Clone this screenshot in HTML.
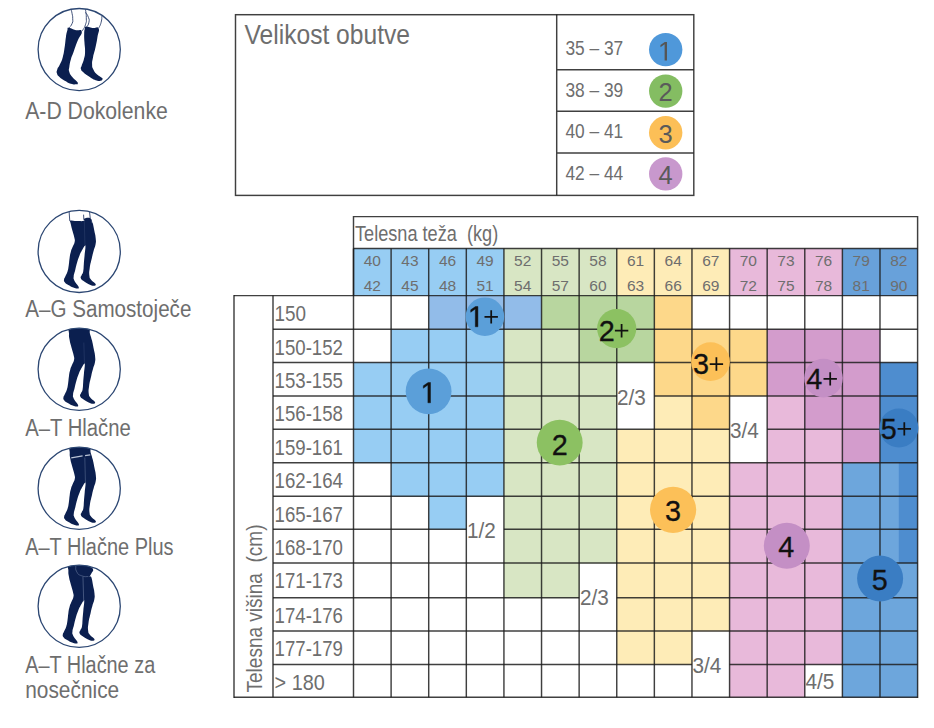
<!DOCTYPE html>
<html><head><meta charset="utf-8"><title>Velikost</title>
<style>
html,body{margin:0;padding:0;background:#fff;}
body{width:934px;height:728px;overflow:hidden;font-family:"Liberation Sans",sans-serif;}
svg{display:block;position:absolute;left:0;top:0;}
text{font-family:"Liberation Sans",sans-serif;}
</style></head><body>
<svg width="934" height="728" viewBox="0 0 934 728">

<rect x="353.50" y="248.4" width="37.91" height="47.5" fill="#97cdf3"/>
<rect x="391.11" y="248.4" width="37.91" height="47.5" fill="#97cdf3"/>
<rect x="428.71" y="248.4" width="37.91" height="47.5" fill="#97cdf3"/>
<rect x="466.32" y="248.4" width="37.91" height="47.5" fill="#97cdf3"/>
<rect x="503.93" y="248.4" width="37.91" height="47.5" fill="#d8e6c4"/>
<rect x="541.53" y="248.4" width="37.91" height="47.5" fill="#d8e6c4"/>
<rect x="579.14" y="248.4" width="37.91" height="47.5" fill="#d8e6c4"/>
<rect x="616.75" y="248.4" width="37.91" height="47.5" fill="#feecb7"/>
<rect x="654.35" y="248.4" width="37.91" height="47.5" fill="#feecb7"/>
<rect x="691.96" y="248.4" width="37.91" height="47.5" fill="#feecb7"/>
<rect x="729.57" y="248.4" width="37.91" height="47.5" fill="#e8b9da"/>
<rect x="767.17" y="248.4" width="37.91" height="47.5" fill="#e8b9da"/>
<rect x="804.78" y="248.4" width="37.91" height="47.5" fill="#e8b9da"/>
<rect x="842.39" y="248.4" width="37.91" height="47.5" fill="#68a1da"/>
<rect x="879.99" y="248.4" width="37.91" height="47.5" fill="#68a1da"/>
<rect x="428.71" y="295.60" width="37.91" height="33.90" fill="#92bce9"/>
<rect x="466.32" y="295.60" width="37.91" height="33.90" fill="#92bce9"/>
<rect x="503.93" y="295.60" width="37.91" height="33.90" fill="#92bce9"/>
<rect x="541.53" y="295.60" width="37.91" height="33.90" fill="#b8d69f"/>
<rect x="579.14" y="295.60" width="37.91" height="33.90" fill="#b8d69f"/>
<rect x="616.75" y="295.60" width="37.91" height="33.90" fill="#b8d69f"/>
<rect x="654.35" y="295.60" width="37.91" height="33.90" fill="#fdd88a"/>
<rect x="391.11" y="329.20" width="37.91" height="33.50" fill="#97cdf3"/>
<rect x="428.71" y="329.20" width="37.91" height="33.50" fill="#97cdf3"/>
<rect x="466.32" y="329.20" width="37.91" height="33.50" fill="#97cdf3"/>
<rect x="503.93" y="329.20" width="37.91" height="33.50" fill="#d8e6c4"/>
<rect x="541.53" y="329.20" width="37.91" height="33.50" fill="#d8e6c4"/>
<rect x="579.14" y="329.20" width="37.91" height="33.50" fill="#b8d69f"/>
<rect x="616.75" y="329.20" width="37.91" height="33.50" fill="#b8d69f"/>
<rect x="654.35" y="329.20" width="37.91" height="33.50" fill="#fdd88a"/>
<rect x="691.96" y="329.20" width="37.91" height="33.50" fill="#fdd88a"/>
<rect x="729.57" y="329.20" width="37.91" height="33.50" fill="#fdd88a"/>
<rect x="767.17" y="329.20" width="37.91" height="33.50" fill="#d39ccc"/>
<rect x="804.78" y="329.20" width="37.91" height="33.50" fill="#d39ccc"/>
<rect x="842.39" y="329.20" width="37.91" height="33.50" fill="#d39ccc"/>
<rect x="353.50" y="362.40" width="37.91" height="33.80" fill="#97cdf3"/>
<rect x="391.11" y="362.40" width="37.91" height="33.80" fill="#97cdf3"/>
<rect x="428.71" y="362.40" width="37.91" height="33.80" fill="#97cdf3"/>
<rect x="466.32" y="362.40" width="37.91" height="33.80" fill="#97cdf3"/>
<rect x="503.93" y="362.40" width="37.91" height="33.80" fill="#d8e6c4"/>
<rect x="541.53" y="362.40" width="37.91" height="33.80" fill="#d8e6c4"/>
<rect x="579.14" y="362.40" width="37.91" height="33.80" fill="#d8e6c4"/>
<rect x="654.35" y="362.40" width="37.91" height="33.80" fill="#fdd88a"/>
<rect x="691.96" y="362.40" width="37.91" height="33.80" fill="#fdd88a"/>
<rect x="729.57" y="362.40" width="37.91" height="33.80" fill="#fdd88a"/>
<rect x="767.17" y="362.40" width="37.91" height="33.80" fill="#d39ccc"/>
<rect x="804.78" y="362.40" width="37.91" height="33.80" fill="#d39ccc"/>
<rect x="842.39" y="362.40" width="37.91" height="33.80" fill="#d39ccc"/>
<rect x="879.99" y="362.40" width="37.91" height="33.80" fill="#4e8dcf"/>
<rect x="353.50" y="395.90" width="37.91" height="33.70" fill="#97cdf3"/>
<rect x="391.11" y="395.90" width="37.91" height="33.70" fill="#97cdf3"/>
<rect x="428.71" y="395.90" width="37.91" height="33.70" fill="#97cdf3"/>
<rect x="466.32" y="395.90" width="37.91" height="33.70" fill="#97cdf3"/>
<rect x="503.93" y="395.90" width="37.91" height="33.70" fill="#d8e6c4"/>
<rect x="541.53" y="395.90" width="37.91" height="33.70" fill="#d8e6c4"/>
<rect x="579.14" y="395.90" width="37.91" height="33.70" fill="#d8e6c4"/>
<rect x="654.35" y="395.90" width="37.91" height="33.70" fill="#feecb7"/>
<rect x="691.96" y="395.90" width="37.91" height="33.70" fill="#fdd88a"/>
<rect x="767.17" y="395.90" width="37.91" height="33.70" fill="#e8b9da"/>
<rect x="804.78" y="395.90" width="37.91" height="33.70" fill="#d39ccc"/>
<rect x="842.39" y="395.90" width="37.91" height="33.70" fill="#d39ccc"/>
<rect x="879.99" y="395.90" width="37.91" height="33.70" fill="#4e8dcf"/>
<rect x="353.50" y="429.30" width="37.91" height="33.80" fill="#97cdf3"/>
<rect x="391.11" y="429.30" width="37.91" height="33.80" fill="#97cdf3"/>
<rect x="428.71" y="429.30" width="37.91" height="33.80" fill="#97cdf3"/>
<rect x="466.32" y="429.30" width="37.91" height="33.80" fill="#97cdf3"/>
<rect x="503.93" y="429.30" width="37.91" height="33.80" fill="#d8e6c4"/>
<rect x="541.53" y="429.30" width="37.91" height="33.80" fill="#d8e6c4"/>
<rect x="579.14" y="429.30" width="37.91" height="33.80" fill="#d8e6c4"/>
<rect x="616.75" y="429.30" width="37.91" height="33.80" fill="#feecb7"/>
<rect x="654.35" y="429.30" width="37.91" height="33.80" fill="#feecb7"/>
<rect x="691.96" y="429.30" width="37.91" height="33.80" fill="#feecb7"/>
<rect x="767.17" y="429.30" width="37.91" height="33.80" fill="#e8b9da"/>
<rect x="804.78" y="429.30" width="37.91" height="33.80" fill="#e8b9da"/>
<rect x="842.39" y="429.30" width="37.91" height="33.80" fill="#d39ccc"/>
<rect x="879.99" y="429.30" width="37.91" height="33.80" fill="#4e8dcf"/>
<rect x="391.11" y="462.80" width="37.91" height="33.80" fill="#97cdf3"/>
<rect x="428.71" y="462.80" width="37.91" height="33.80" fill="#97cdf3"/>
<rect x="466.32" y="462.80" width="37.91" height="33.80" fill="#97cdf3"/>
<rect x="503.93" y="462.80" width="37.91" height="33.80" fill="#d8e6c4"/>
<rect x="541.53" y="462.80" width="37.91" height="33.80" fill="#d8e6c4"/>
<rect x="579.14" y="462.80" width="37.91" height="33.80" fill="#d8e6c4"/>
<rect x="616.75" y="462.80" width="37.91" height="33.80" fill="#feecb7"/>
<rect x="654.35" y="462.80" width="37.91" height="33.80" fill="#feecb7"/>
<rect x="691.96" y="462.80" width="37.91" height="33.80" fill="#feecb7"/>
<rect x="729.57" y="462.80" width="37.91" height="33.80" fill="#e8b9da"/>
<rect x="767.17" y="462.80" width="37.91" height="33.80" fill="#e8b9da"/>
<rect x="804.78" y="462.80" width="37.91" height="33.80" fill="#e8b9da"/>
<rect x="842.39" y="462.80" width="37.91" height="33.80" fill="#6da6dc"/>
<rect x="879.99" y="462.80" width="19.10" height="33.80" fill="#6da6dc"/>
<rect x="898.80" y="462.80" width="18.80" height="33.80" fill="#4e8dcf"/>
<rect x="428.71" y="496.30" width="37.91" height="33.20" fill="#97cdf3"/>
<rect x="503.93" y="496.30" width="37.91" height="33.20" fill="#d8e6c4"/>
<rect x="541.53" y="496.30" width="37.91" height="33.20" fill="#d8e6c4"/>
<rect x="579.14" y="496.30" width="37.91" height="33.20" fill="#d8e6c4"/>
<rect x="616.75" y="496.30" width="37.91" height="33.20" fill="#feecb7"/>
<rect x="654.35" y="496.30" width="37.91" height="33.20" fill="#feecb7"/>
<rect x="691.96" y="496.30" width="37.91" height="33.20" fill="#feecb7"/>
<rect x="729.57" y="496.30" width="37.91" height="33.20" fill="#e8b9da"/>
<rect x="767.17" y="496.30" width="37.91" height="33.20" fill="#e8b9da"/>
<rect x="804.78" y="496.30" width="37.91" height="33.20" fill="#e8b9da"/>
<rect x="842.39" y="496.30" width="37.91" height="33.20" fill="#6da6dc"/>
<rect x="879.99" y="496.30" width="19.10" height="33.20" fill="#6da6dc"/>
<rect x="898.80" y="496.30" width="18.80" height="33.20" fill="#4e8dcf"/>
<rect x="503.93" y="529.20" width="37.91" height="34.10" fill="#d8e6c4"/>
<rect x="541.53" y="529.20" width="37.91" height="34.10" fill="#d8e6c4"/>
<rect x="579.14" y="529.20" width="37.91" height="34.10" fill="#d8e6c4"/>
<rect x="616.75" y="529.20" width="37.91" height="34.10" fill="#feecb7"/>
<rect x="654.35" y="529.20" width="37.91" height="34.10" fill="#feecb7"/>
<rect x="691.96" y="529.20" width="37.91" height="34.10" fill="#feecb7"/>
<rect x="729.57" y="529.20" width="37.91" height="34.10" fill="#e8b9da"/>
<rect x="767.17" y="529.20" width="37.91" height="34.10" fill="#e8b9da"/>
<rect x="804.78" y="529.20" width="37.91" height="34.10" fill="#e8b9da"/>
<rect x="842.39" y="529.20" width="37.91" height="34.10" fill="#6da6dc"/>
<rect x="879.99" y="529.20" width="19.10" height="34.10" fill="#6da6dc"/>
<rect x="898.80" y="529.20" width="18.80" height="34.10" fill="#4e8dcf"/>
<rect x="503.93" y="563.00" width="37.91" height="35.10" fill="#d8e6c4"/>
<rect x="541.53" y="563.00" width="37.91" height="35.10" fill="#d8e6c4"/>
<rect x="616.75" y="563.00" width="37.91" height="35.10" fill="#feecb7"/>
<rect x="654.35" y="563.00" width="37.91" height="35.10" fill="#feecb7"/>
<rect x="691.96" y="563.00" width="37.91" height="35.10" fill="#feecb7"/>
<rect x="729.57" y="563.00" width="37.91" height="35.10" fill="#e8b9da"/>
<rect x="767.17" y="563.00" width="37.91" height="35.10" fill="#e8b9da"/>
<rect x="804.78" y="563.00" width="37.91" height="35.10" fill="#e8b9da"/>
<rect x="842.39" y="563.00" width="37.91" height="35.10" fill="#6da6dc"/>
<rect x="879.99" y="563.00" width="37.91" height="35.10" fill="#6da6dc"/>
<rect x="616.75" y="597.80" width="37.91" height="33.50" fill="#feecb7"/>
<rect x="654.35" y="597.80" width="37.91" height="33.50" fill="#feecb7"/>
<rect x="691.96" y="597.80" width="37.91" height="33.50" fill="#feecb7"/>
<rect x="729.57" y="597.80" width="37.91" height="33.50" fill="#e8b9da"/>
<rect x="767.17" y="597.80" width="37.91" height="33.50" fill="#e8b9da"/>
<rect x="804.78" y="597.80" width="37.91" height="33.50" fill="#e8b9da"/>
<rect x="842.39" y="597.80" width="37.91" height="33.50" fill="#6da6dc"/>
<rect x="879.99" y="597.80" width="37.91" height="33.50" fill="#6da6dc"/>
<rect x="616.75" y="631.00" width="37.91" height="33.70" fill="#feecb7"/>
<rect x="654.35" y="631.00" width="37.91" height="33.70" fill="#feecb7"/>
<rect x="729.57" y="631.00" width="37.91" height="33.70" fill="#e8b9da"/>
<rect x="767.17" y="631.00" width="37.91" height="33.70" fill="#e8b9da"/>
<rect x="804.78" y="631.00" width="37.91" height="33.70" fill="#e8b9da"/>
<rect x="842.39" y="631.00" width="37.91" height="33.70" fill="#6da6dc"/>
<rect x="879.99" y="631.00" width="37.91" height="33.70" fill="#6da6dc"/>
<rect x="729.57" y="664.40" width="37.91" height="33.20" fill="#e8b9da"/>
<rect x="767.17" y="664.40" width="37.91" height="33.20" fill="#e8b9da"/>
<rect x="842.39" y="664.40" width="37.91" height="33.20" fill="#6da6dc"/>
<rect x="879.99" y="664.40" width="37.91" height="33.20" fill="#6da6dc"/>
<g stroke="#1c1c1c" stroke-width="1.45" stroke-opacity="0.84" fill="none" stroke-linecap="butt">
<path d="M353.5 295.6 V216.6 H917.6 V698.02"/>
<path d="M353.5 248.4 H917.6"/>
<path d="M353.50 248.4 V697.30"/>
<path d="M391.11 248.4 V697.30"/>
<path d="M428.71 248.4 V697.30"/>
<path d="M466.32 248.4 V697.30"/>
<path d="M503.93 248.4 V697.30"/>
<path d="M541.53 248.4 V697.30"/>
<path d="M579.14 248.4 V697.30"/>
<path d="M616.75 248.4 V697.30"/>
<path d="M654.35 248.4 V697.30"/>
<path d="M691.96 248.4 V697.30"/>
<path d="M729.57 248.4 V697.30"/>
<path d="M767.17 248.4 V697.30"/>
<path d="M804.78 248.4 V697.30"/>
<path d="M842.39 248.4 V697.30"/>
<path d="M879.99 248.4 V697.30"/>
<path d="M234.00 295.60 H917.60"/>
<path d="M273.00 329.20 H917.60"/>
<path d="M273.00 362.40 H917.60"/>
<path d="M273.00 395.90 H616.75"/>
<path d="M654.35 395.90 H917.60"/>
<path d="M273.00 429.30 H729.57"/>
<path d="M767.17 429.30 H917.60"/>
<path d="M273.00 462.80 H917.60"/>
<path d="M273.00 496.30 H917.60"/>
<path d="M273.00 529.20 H466.32"/>
<path d="M503.93 529.20 H917.60"/>
<path d="M273.00 563.00 H917.60"/>
<path d="M273.00 597.80 H579.14"/>
<path d="M616.75 597.80 H917.60"/>
<path d="M273.00 631.00 H917.60"/>
<path d="M273.00 664.40 H691.96"/>
<path d="M729.57 664.40 H917.60"/>
<path d="M234.00 697.30 H917.60"/>
<path d="M234 294.88 V698.02"/>
<path d="M273 295.6 V697.30"/>
</g>
<text x="355" y="241" font-size="21.8" fill="#6e6e6e" textLength="143.2" lengthAdjust="spacingAndGlyphs" xml:space="preserve">Telesna teža  (kg)</text>
<text x="372.30" y="266.3" font-size="15.5" fill="#6e6e6e" text-anchor="middle">40</text>
<text x="372.30" y="290.6" font-size="15.5" fill="#6e6e6e" text-anchor="middle">42</text>
<text x="409.91" y="266.3" font-size="15.5" fill="#6e6e6e" text-anchor="middle">43</text>
<text x="409.91" y="290.6" font-size="15.5" fill="#6e6e6e" text-anchor="middle">45</text>
<text x="447.52" y="266.3" font-size="15.5" fill="#6e6e6e" text-anchor="middle">46</text>
<text x="447.52" y="290.6" font-size="15.5" fill="#6e6e6e" text-anchor="middle">48</text>
<text x="485.12" y="266.3" font-size="15.5" fill="#6e6e6e" text-anchor="middle">49</text>
<text x="485.12" y="290.6" font-size="15.5" fill="#6e6e6e" text-anchor="middle">51</text>
<text x="522.73" y="266.3" font-size="15.5" fill="#6e6e6e" text-anchor="middle">52</text>
<text x="522.73" y="290.6" font-size="15.5" fill="#6e6e6e" text-anchor="middle">54</text>
<text x="560.34" y="266.3" font-size="15.5" fill="#6e6e6e" text-anchor="middle">55</text>
<text x="560.34" y="290.6" font-size="15.5" fill="#6e6e6e" text-anchor="middle">57</text>
<text x="597.94" y="266.3" font-size="15.5" fill="#6e6e6e" text-anchor="middle">58</text>
<text x="597.94" y="290.6" font-size="15.5" fill="#6e6e6e" text-anchor="middle">60</text>
<text x="635.55" y="266.3" font-size="15.5" fill="#6e6e6e" text-anchor="middle">61</text>
<text x="635.55" y="290.6" font-size="15.5" fill="#6e6e6e" text-anchor="middle">63</text>
<text x="673.16" y="266.3" font-size="15.5" fill="#6e6e6e" text-anchor="middle">64</text>
<text x="673.16" y="290.6" font-size="15.5" fill="#6e6e6e" text-anchor="middle">66</text>
<text x="710.76" y="266.3" font-size="15.5" fill="#6e6e6e" text-anchor="middle">67</text>
<text x="710.76" y="290.6" font-size="15.5" fill="#6e6e6e" text-anchor="middle">69</text>
<text x="748.37" y="266.3" font-size="15.5" fill="#6e6e6e" text-anchor="middle">70</text>
<text x="748.37" y="290.6" font-size="15.5" fill="#6e6e6e" text-anchor="middle">72</text>
<text x="785.98" y="266.3" font-size="15.5" fill="#6e6e6e" text-anchor="middle">73</text>
<text x="785.98" y="290.6" font-size="15.5" fill="#6e6e6e" text-anchor="middle">75</text>
<text x="823.58" y="266.3" font-size="15.5" fill="#6e6e6e" text-anchor="middle">76</text>
<text x="823.58" y="290.6" font-size="15.5" fill="#6e6e6e" text-anchor="middle">78</text>
<text x="861.19" y="266.3" font-size="15.5" fill="#6e6e6e" text-anchor="middle">79</text>
<text x="861.19" y="290.6" font-size="15.5" fill="#6e6e6e" text-anchor="middle">81</text>
<text x="898.80" y="266.3" font-size="15.5" fill="#6e6e6e" text-anchor="middle">82</text>
<text x="898.80" y="290.6" font-size="15.5" fill="#6e6e6e" text-anchor="middle">90</text>
<text x="274.6" y="321.00" font-size="21.7" fill="#6e6e6e" textLength="31.5" lengthAdjust="spacingAndGlyphs">150</text>
<text x="274.6" y="354.60" font-size="21.7" fill="#6e6e6e" textLength="68.3" lengthAdjust="spacingAndGlyphs">150-152</text>
<text x="274.6" y="387.80" font-size="21.7" fill="#6e6e6e" textLength="68.3" lengthAdjust="spacingAndGlyphs">153-155</text>
<text x="274.6" y="421.30" font-size="21.7" fill="#6e6e6e" textLength="68.3" lengthAdjust="spacingAndGlyphs">156-158</text>
<text x="274.6" y="454.70" font-size="21.7" fill="#6e6e6e" textLength="68.3" lengthAdjust="spacingAndGlyphs">159-161</text>
<text x="274.6" y="488.20" font-size="21.7" fill="#6e6e6e" textLength="68.3" lengthAdjust="spacingAndGlyphs">162-164</text>
<text x="274.6" y="521.70" font-size="21.7" fill="#6e6e6e" textLength="68.3" lengthAdjust="spacingAndGlyphs">165-167</text>
<text x="274.6" y="554.60" font-size="21.7" fill="#6e6e6e" textLength="68.3" lengthAdjust="spacingAndGlyphs">168-170</text>
<text x="274.6" y="588.40" font-size="21.7" fill="#6e6e6e" textLength="68.3" lengthAdjust="spacingAndGlyphs">171-173</text>
<text x="274.6" y="623.20" font-size="21.7" fill="#6e6e6e" textLength="68.3" lengthAdjust="spacingAndGlyphs">174-176</text>
<text x="274.6" y="656.40" font-size="21.7" fill="#6e6e6e" textLength="68.3" lengthAdjust="spacingAndGlyphs">177-179</text>
<text x="274.6" y="689.80" font-size="21.7" fill="#6e6e6e" textLength="50.2" lengthAdjust="spacingAndGlyphs">&gt; 180</text>
<text transform="translate(261.7,692.5) rotate(-90)" font-size="22" fill="#6e6e6e" textLength="168" lengthAdjust="spacingAndGlyphs" xml:space="preserve">Telesna višina  (cm)</text>
<text x="617" y="404.5" font-size="21.7" fill="#6e6e6e" textLength="28.8" lengthAdjust="spacingAndGlyphs">2/3</text>
<text x="730" y="438" font-size="21.7" fill="#6e6e6e" textLength="28.8" lengthAdjust="spacingAndGlyphs">3/4</text>
<text x="467" y="538" font-size="21.7" fill="#6e6e6e" textLength="28.8" lengthAdjust="spacingAndGlyphs">1/2</text>
<text x="580" y="605" font-size="21.7" fill="#6e6e6e" textLength="28.8" lengthAdjust="spacingAndGlyphs">2/3</text>
<text x="692.5" y="672.6" font-size="21.7" fill="#6e6e6e" textLength="28.8" lengthAdjust="spacingAndGlyphs">3/4</text>
<text x="805.5" y="688.5" font-size="21.7" fill="#6e6e6e" textLength="28.8" lengthAdjust="spacingAndGlyphs">4/5</text>
<circle cx="428.60" cy="391.30" r="22.9" fill="#5b9fd9"/>
<path transform="translate(420.48,402.80) scale(0.01441,-0.01441)" d="M515 0V1237L197 1010V1180L530 1409H696V0Z" fill="#111" stroke="#111" stroke-width="30"/>
<circle cx="559.70" cy="442.60" r="22.95" fill="#8cc162"/>
<text x="559.70" y="455.10" font-size="28.8" fill="#111" stroke="#111" stroke-width="0.3" text-anchor="middle">2</text>
<circle cx="673.10" cy="509.80" r="23.1" fill="#fcc058"/>
<text x="672.90" y="521.10" font-size="28.8" fill="#111" stroke="#111" stroke-width="0.3" text-anchor="middle">3</text>
<circle cx="786.80" cy="545.70" r="23" fill="#c48fc5"/>
<text x="786.30" y="557.10" font-size="28.8" fill="#111" stroke="#111" stroke-width="0.3" text-anchor="middle">4</text>
<circle cx="880.10" cy="578.40" r="23" fill="#3a7dc3"/>
<text x="879.70" y="590.10" font-size="28.8" fill="#111" stroke="#111" stroke-width="0.3" text-anchor="middle">5</text>
<circle cx="484.90" cy="316.70" r="19.3" fill="#5b9fd9"/>
<path transform="translate(467.88,326.80) scale(0.01441,-0.01441)" d="M515 0V1237L197 1010V1180L530 1409H696V0Z" fill="#111" stroke="#111" stroke-width="30"/>
<path d="M484.50 316.90H497.90M491.20 310.20V323.60" stroke="#111" stroke-width="1.75" fill="none"/>
<circle cx="616.70" cy="328.60" r="19.6" fill="#8cc162"/>
<text x="606.70" y="340.80" font-size="28.8" fill="#111" stroke="#111" stroke-width="0.3" text-anchor="middle">2</text>
<path d="M614.90 330.70H628.30M621.60 324.00V337.40" stroke="#111" stroke-width="1.75" fill="none"/>
<circle cx="710.50" cy="361.70" r="19.4" fill="#fcc058"/>
<text x="701.10" y="373.70" font-size="28.8" fill="#111" stroke="#111" stroke-width="0.3" text-anchor="middle">3</text>
<path d="M709.70 364.00H723.10M716.40 357.30V370.70" stroke="#111" stroke-width="1.75" fill="none"/>
<circle cx="823.50" cy="378.10" r="19.3" fill="#c48fc5"/>
<text x="814.30" y="388.80" font-size="28.8" fill="#111" stroke="#111" stroke-width="0.3" text-anchor="middle">4</text>
<path d="M823.50 378.90H836.90M830.20 372.20V385.60" stroke="#111" stroke-width="1.75" fill="none"/>
<circle cx="898.90" cy="427.90" r="19.5" fill="#3a7dc3"/>
<text x="888.70" y="439.00" font-size="28.8" fill="#111" stroke="#111" stroke-width="0.3" text-anchor="middle">5</text>
<path d="M897.60 428.90H911.00M904.30 422.20V435.60" stroke="#111" stroke-width="1.75" fill="none"/>
<g stroke="#1c1c1c" stroke-width="1.45" stroke-opacity="0.84" fill="none">
<rect x="235.5" y="14.7" width="458.3" height="180.7"/>
<path d="M556.7 14.5 V195.3 M556.7 69.8 H693.7 M556.7 111.3 H693.7 M556.7 152.9 H693.7"/>
</g>
<text x="244.5" y="43.8" font-size="27.2" fill="#6e6e6e" textLength="165.5" lengthAdjust="spacingAndGlyphs">Velikost obutve</text>
<text x="565.4" y="55.2" font-size="19.3" fill="#6e6e6e" textLength="57.8" lengthAdjust="spacingAndGlyphs">35 – 37</text>
<circle cx="665.7" cy="49.6" r="16.7" fill="#4f98da"/>
<path transform="translate(657.89,60.50) scale(0.01306,-0.01306)" d="M515 0V1237L197 1010V1180L530 1409H696V0Z" fill="#555"/>
<text x="565.4" y="96.7" font-size="19.3" fill="#6e6e6e" textLength="57.8" lengthAdjust="spacingAndGlyphs">38 – 39</text>
<circle cx="665.7" cy="91.1" r="16.7" fill="#84bd62"/>
<text x="665.7" y="101.3" font-size="25.5" fill="#5a5a5a" text-anchor="middle">2</text>
<text x="565.4" y="138.3" font-size="19.3" fill="#6e6e6e" textLength="57.8" lengthAdjust="spacingAndGlyphs">40 – 41</text>
<circle cx="665.7" cy="132.7" r="16.7" fill="#fcbf57"/>
<text x="665.7" y="142.9" font-size="25.5" fill="#5a5a5a" text-anchor="middle">3</text>
<text x="565.4" y="179.5" font-size="19.3" fill="#6e6e6e" textLength="57.8" lengthAdjust="spacingAndGlyphs">42 – 44</text>
<circle cx="665.7" cy="173.9" r="16.7" fill="#c898cd"/>
<text x="665.7" y="184.1" font-size="25.5" fill="#5a5a5a" text-anchor="middle">4</text>
<circle cx="79.2" cy="49.6" r="41.1" fill="#fff" stroke="none"/>
<circle cx="79.2" cy="251.4" r="41.1" fill="#fff" stroke="none"/>
<circle cx="79.2" cy="369.3" r="41.1" fill="#fff" stroke="none"/>
<circle cx="79.2" cy="488.3" r="41.1" fill="#fff" stroke="none"/>
<circle cx="79.2" cy="606.3" r="41.1" fill="#fff" stroke="none"/>
<text x="25.2" y="118.6" font-size="23" fill="#6e6e6e" textLength="142.6" lengthAdjust="spacingAndGlyphs">A-D Dokolenke</text>
<text x="25.2" y="317.1" font-size="23" fill="#6e6e6e" textLength="166.2" lengthAdjust="spacingAndGlyphs">A–G Samostoječe</text>
<text x="25.2" y="435.6" font-size="23" fill="#6e6e6e" textLength="105.6" lengthAdjust="spacingAndGlyphs">A–T Hlačne</text>
<text x="25.2" y="555.0" font-size="23" fill="#6e6e6e" textLength="148.4" lengthAdjust="spacingAndGlyphs">A–T Hlačne Plus</text>
<text x="25.2" y="672.8" font-size="23" fill="#6e6e6e" textLength="130" lengthAdjust="spacingAndGlyphs">A–T Hlačne za</text>
<text x="25.2" y="697.9" font-size="23" fill="#6e6e6e" textLength="94" lengthAdjust="spacingAndGlyphs">nosečnice</text>
<clipPath id="ic0"><circle cx="79.2" cy="49.6" r="41"/></clipPath>
<g clip-path="url(#ic0)"><g transform="translate(35,5) scale(0.12362)">
<path d="M272.0 185.0 C288.8 184.5 296.7 195.0 325.0 203.0 C353.3 211.0 372.7 191.8 378.0 215.0 C383.3 238.2 362.6 246.0 345.0 290.0 C327.4 334.0 326.7 340.0 312.0 380.0 C297.3 420.0 299.1 408.0 290.0 440.0 C280.9 472.0 281.5 473.3 278.0 500.0 C274.5 526.7 271.1 518.7 277.0 540.0 C282.9 561.3 284.5 560.0 300.0 580.0 C315.5 600.0 322.7 601.1 335.0 615.0 C347.3 628.9 346.0 624.8 346.0 632.0 C346.0 639.2 349.9 640.4 335.0 642.0 C320.1 643.6 314.0 645.2 290.0 638.0 C266.0 630.8 269.0 629.1 245.0 615.0 C221.0 600.9 217.9 601.0 200.0 585.0 C182.1 569.0 183.3 571.8 178.0 555.0 C172.7 538.2 173.6 542.0 180.0 522.0 C186.4 502.0 190.0 507.2 202.0 480.0 C214.0 452.8 214.9 457.3 225.0 420.0 C235.1 382.7 233.3 382.7 240.0 340.0 C246.7 297.3 244.1 296.0 250.0 260.0 C255.9 224.0 256.1 225.0 262.0 205.0 C267.9 185.0 255.2 185.5 272.0 185.0Z" fill="#0b1f4f"/>
<path d="M413.0 175.0 C429.3 173.9 438.1 182.5 465.0 186.0 C491.9 189.5 503.3 168.3 514.0 188.0 C524.7 207.7 511.4 219.5 505.0 260.0 C498.6 300.5 499.3 297.3 490.0 340.0 C480.7 382.7 477.5 382.7 470.0 420.0 C462.5 457.3 461.5 452.8 462.0 480.0 C462.5 507.2 461.9 500.7 472.0 522.0 C482.1 543.3 481.9 542.4 500.0 560.0 C518.1 577.6 527.7 577.3 540.0 588.0 C552.3 598.7 548.7 593.6 546.0 600.0 C543.3 606.4 544.9 609.9 530.0 612.0 C515.1 614.1 514.0 616.5 490.0 608.0 C466.0 599.5 465.3 596.0 440.0 580.0 C414.7 564.0 413.1 564.0 395.0 548.0 C376.9 532.0 376.5 535.5 372.0 520.0 C367.5 504.5 371.9 511.3 378.0 490.0 C384.1 468.7 387.8 469.3 395.0 440.0 C402.2 410.7 403.7 417.3 405.0 380.0 C406.3 342.7 401.9 340.0 400.0 300.0 C398.1 260.0 396.9 259.3 398.0 230.0 C399.1 200.7 400.0 204.7 404.0 190.0 C408.0 175.3 396.7 176.1 413.0 175.0Z" fill="#0b1f4f"/>
<g fill="none" stroke="#14295a" stroke-width="6.5">
<path d="M292.0 35.0 C294.7 46.7 295.7 45.0 300.0 70.0 C304.3 95.0 305.0 83.3 305.0 110.0 C305.0 136.7 310.0 125.0 300.0 150.0 C290.0 175.0 283.3 173.3 275.0 185.0"/>
<path d="M408.0 35.0 C410.3 56.7 415.0 58.3 415.0 100.0 C415.0 141.7 419.7 122.7 408.0 160.0 C396.3 197.3 389.3 194.7 380.0 212.0"/>
<path d="M408.0 60.0 C416.0 73.3 422.7 73.3 432.0 100.0 C441.3 126.7 440.0 114.7 436.0 140.0 C432.0 165.3 425.3 164.0 420.0 176.0"/>
<path d="M541.0 90.0 C539.0 106.7 543.7 107.3 535.0 140.0 C526.3 172.7 521.7 172.0 515.0 188.0"/>
</g>
</g></g>
<circle cx="79.2" cy="49.6" r="41.1" fill="none" stroke="#2b4672" stroke-width="1.3"/>
<clipPath id="ic1"><circle cx="79.2" cy="251.4" r="41"/></clipPath>
<g clip-path="url(#ic1)"><g transform="translate(35,206) scale(0.12362)">
<path d="M280.0 118.0 C265.3 120.1 279.7 110.8 285.0 130.0 C290.3 149.2 291.5 158.0 300.0 190.0 C308.5 222.0 311.4 223.3 317.0 250.0 C322.6 276.7 324.2 268.7 321.0 290.0 C317.8 311.3 313.3 308.7 305.0 330.0 C296.7 351.3 296.7 346.0 290.0 370.0 C283.3 394.0 284.5 390.7 280.0 420.0 C275.5 449.3 277.5 450.7 273.0 480.0 C268.5 509.3 270.5 506.0 263.0 530.0 C255.5 554.0 252.5 552.7 245.0 570.0 C237.5 587.3 236.1 582.7 235.0 595.0 C233.9 607.3 231.7 604.0 241.0 616.0 C250.3 628.0 251.6 628.3 270.0 640.0 C288.4 651.7 290.5 652.5 310.0 660.0 C329.5 667.5 331.3 668.5 343.0 668.0 C354.7 667.5 354.8 666.8 354.0 658.0 C353.2 649.2 349.9 650.5 340.0 635.0 C330.1 619.5 324.2 617.3 317.0 600.0 C309.8 582.7 310.9 591.3 313.0 570.0 C315.1 548.7 317.8 549.3 325.0 520.0 C332.2 490.7 330.7 492.0 340.0 460.0 C349.3 428.0 348.0 429.3 360.0 400.0 C372.0 370.7 373.5 370.8 385.0 350.0 C396.5 329.2 396.9 326.8 403.0 322.0 C409.1 317.2 408.5 311.2 408.0 332.0 C407.5 352.8 404.5 363.2 401.0 400.0 C397.5 436.8 397.9 435.3 395.0 470.0 C392.1 504.7 394.8 506.0 390.0 530.0 C385.2 554.0 382.3 546.1 377.0 560.0 C371.7 573.9 366.5 570.0 370.0 582.0 C373.5 594.0 372.7 591.7 390.0 605.0 C407.3 618.3 412.3 621.3 435.0 632.0 C457.7 642.7 460.1 643.4 475.0 645.0 C489.9 646.6 488.9 644.1 491.0 638.0 C493.1 631.9 492.6 632.7 483.0 622.0 C473.4 611.3 466.5 613.2 455.0 598.0 C443.5 582.8 443.2 591.1 440.0 565.0 C436.8 538.9 437.7 538.7 443.0 500.0 C448.3 461.3 451.5 457.3 460.0 420.0 C468.5 382.7 467.0 389.3 475.0 360.0 C483.0 330.7 485.7 336.7 490.0 310.0 C494.3 283.3 493.7 289.3 491.0 260.0 C488.3 230.7 486.9 234.7 480.0 200.0 C473.1 165.3 469.8 146.0 465.0 130.0 C460.2 114.0 466.5 148.0 462.0 140.0 C457.5 132.0 465.6 109.6 448.0 100.0 C430.4 90.4 410.1 98.7 396.0 104.0 C381.9 109.3 409.9 115.2 395.0 120.0 C380.1 124.8 370.7 122.5 340.0 122.0 C309.3 121.5 294.7 115.9 280.0 118.0Z" fill="#0b1f4f"/>
<g fill="none" stroke="#14295a" stroke-width="6.5">
<path d="M276 45 L281 118"/><path d="M393 70 L395 108"/><path d="M441 45 L447 100"/>
</g>
<path d="M399 122 L404 318" stroke="#41557f" stroke-width="3" fill="none"/>
</g></g>
<circle cx="79.2" cy="251.4" r="41.1" fill="none" stroke="#2b4672" stroke-width="1.3"/>
<clipPath id="ic2"><circle cx="79.2" cy="369.3" r="41"/></clipPath>
<g clip-path="url(#ic2)"><g transform="translate(35,324) scale(0.12362)">
<path d="M283.0 35.0 C261.7 49.1 275.8 54.7 275.0 80.0 C274.2 105.3 274.7 100.7 280.0 130.0 C285.3 159.3 286.5 158.0 295.0 190.0 C303.5 222.0 306.4 223.3 312.0 250.0 C317.6 276.7 319.2 268.7 316.0 290.0 C312.8 311.3 308.3 308.7 300.0 330.0 C291.7 351.3 291.7 346.0 285.0 370.0 C278.3 394.0 279.5 390.7 275.0 420.0 C270.5 449.3 272.5 450.7 268.0 480.0 C263.5 509.3 265.5 506.0 258.0 530.0 C250.5 554.0 247.5 552.7 240.0 570.0 C232.5 587.3 231.1 582.7 230.0 595.0 C228.9 607.3 226.7 604.0 236.0 616.0 C245.3 628.0 246.6 628.3 265.0 640.0 C283.4 651.7 285.5 652.5 305.0 660.0 C324.5 667.5 326.3 668.5 338.0 668.0 C349.7 667.5 349.8 666.8 349.0 658.0 C348.2 649.2 344.9 650.5 335.0 635.0 C325.1 619.5 319.2 617.3 312.0 600.0 C304.8 582.7 305.9 591.3 308.0 570.0 C310.1 548.7 312.8 549.3 320.0 520.0 C327.2 490.7 325.7 492.0 335.0 460.0 C344.3 428.0 343.0 429.3 355.0 400.0 C367.0 370.7 368.5 370.8 380.0 350.0 C391.5 329.2 391.9 326.8 398.0 322.0 C404.1 317.2 403.5 311.2 403.0 332.0 C402.5 352.8 399.5 363.2 396.0 400.0 C392.5 436.8 392.9 435.3 390.0 470.0 C387.1 504.7 389.8 506.0 385.0 530.0 C380.2 554.0 377.3 546.1 372.0 560.0 C366.7 573.9 361.5 570.0 365.0 582.0 C368.5 594.0 367.7 591.7 385.0 605.0 C402.3 618.3 407.3 621.3 430.0 632.0 C452.7 642.7 455.1 643.4 470.0 645.0 C484.9 646.6 483.9 644.1 486.0 638.0 C488.1 631.9 487.6 632.7 478.0 622.0 C468.4 611.3 461.5 613.2 450.0 598.0 C438.5 582.8 438.2 591.1 435.0 565.0 C431.8 538.9 432.7 538.7 438.0 500.0 C443.3 461.3 446.5 457.3 455.0 420.0 C463.5 382.7 462.0 389.3 470.0 360.0 C478.0 330.7 480.7 336.7 485.0 310.0 C489.3 283.3 488.7 289.3 486.0 260.0 C483.3 230.7 481.9 234.7 475.0 200.0 C468.1 165.3 468.0 162.0 460.0 130.0 C452.0 98.0 453.0 105.3 445.0 80.0 C437.0 54.7 454.0 49.1 430.0 35.0 C406.0 20.9 394.2 27.0 355.0 27.0 C315.8 27.0 304.3 20.9 283.0 35.0Z" fill="#0b1f4f"/>
<path d="M395 150 L400 318" stroke="#3a4e7a" stroke-width="3.5" fill="none"/>
</g></g>
<circle cx="79.2" cy="369.3" r="41.1" fill="none" stroke="#2b4672" stroke-width="1.3"/>
<clipPath id="ic3"><circle cx="79.2" cy="488.3" r="41"/></clipPath>
<g clip-path="url(#ic3)"><g transform="translate(35,443) scale(0.12362)">
<path d="M289.0 35.0 C267.7 49.1 281.8 54.7 281.0 80.0 C280.2 105.3 280.7 100.7 286.0 130.0 C291.3 159.3 292.5 158.0 301.0 190.0 C309.5 222.0 312.4 223.3 318.0 250.0 C323.6 276.7 325.2 268.7 322.0 290.0 C318.8 311.3 314.3 308.7 306.0 330.0 C297.7 351.3 297.7 346.0 291.0 370.0 C284.3 394.0 285.5 390.7 281.0 420.0 C276.5 449.3 278.5 450.7 274.0 480.0 C269.5 509.3 271.5 506.0 264.0 530.0 C256.5 554.0 253.5 552.7 246.0 570.0 C238.5 587.3 237.1 582.7 236.0 595.0 C234.9 607.3 232.7 604.0 242.0 616.0 C251.3 628.0 252.6 628.3 271.0 640.0 C289.4 651.7 291.5 652.5 311.0 660.0 C330.5 667.5 332.3 668.5 344.0 668.0 C355.7 667.5 355.8 666.8 355.0 658.0 C354.2 649.2 350.9 650.5 341.0 635.0 C331.1 619.5 325.2 617.3 318.0 600.0 C310.8 582.7 311.9 591.3 314.0 570.0 C316.1 548.7 318.8 549.3 326.0 520.0 C333.2 490.7 331.7 492.0 341.0 460.0 C350.3 428.0 349.0 429.3 361.0 400.0 C373.0 370.7 374.5 370.8 386.0 350.0 C397.5 329.2 397.9 326.8 404.0 322.0 C410.1 317.2 409.5 311.2 409.0 332.0 C408.5 352.8 405.5 363.2 402.0 400.0 C398.5 436.8 398.9 435.3 396.0 470.0 C393.1 504.7 395.8 506.0 391.0 530.0 C386.2 554.0 383.3 546.1 378.0 560.0 C372.7 573.9 367.5 570.0 371.0 582.0 C374.5 594.0 373.7 591.7 391.0 605.0 C408.3 618.3 413.3 621.3 436.0 632.0 C458.7 642.7 461.1 643.4 476.0 645.0 C490.9 646.6 489.9 644.1 492.0 638.0 C494.1 631.9 493.6 632.7 484.0 622.0 C474.4 611.3 467.5 613.2 456.0 598.0 C444.5 582.8 444.2 591.1 441.0 565.0 C437.8 538.9 438.7 538.7 444.0 500.0 C449.3 461.3 452.5 457.3 461.0 420.0 C469.5 382.7 468.0 389.3 476.0 360.0 C484.0 330.7 486.7 336.7 491.0 310.0 C495.3 283.3 494.7 289.3 492.0 260.0 C489.3 230.7 487.9 234.7 481.0 200.0 C474.1 165.3 474.0 162.0 466.0 130.0 C458.0 98.0 459.0 105.3 451.0 80.0 C443.0 54.7 460.0 49.1 436.0 35.0 C412.0 20.9 400.2 27.0 361.0 27.0 C321.8 27.0 310.3 20.9 289.0 35.0Z" fill="#0b1f4f"/>
<path d="M293 120 L385 104 M405 102 L447 96" stroke="#b9c3d6" stroke-width="10" fill="none"/>
<path d="M403 118 L408 318" stroke="#6b7ca0" stroke-width="4" fill="none"/>
</g></g>
<circle cx="79.2" cy="488.3" r="41.1" fill="none" stroke="#2b4672" stroke-width="1.3"/>
<clipPath id="ic4"><circle cx="79.2" cy="606.3" r="41"/></clipPath>
<g clip-path="url(#ic4)"><g transform="translate(35,561) scale(0.12362)">
<path d="M278.0 35.0 C255.3 49.1 270.8 54.7 270.0 80.0 C269.2 105.3 269.7 100.7 275.0 130.0 C280.3 159.3 281.5 158.0 290.0 190.0 C298.5 222.0 301.4 223.3 307.0 250.0 C312.6 276.7 314.2 268.7 311.0 290.0 C307.8 311.3 303.3 308.7 295.0 330.0 C286.7 351.3 286.7 346.0 280.0 370.0 C273.3 394.0 274.5 390.7 270.0 420.0 C265.5 449.3 267.5 450.7 263.0 480.0 C258.5 509.3 260.5 506.0 253.0 530.0 C245.5 554.0 242.5 552.7 235.0 570.0 C227.5 587.3 226.1 582.7 225.0 595.0 C223.9 607.3 221.7 604.0 231.0 616.0 C240.3 628.0 241.6 628.3 260.0 640.0 C278.4 651.7 280.5 652.5 300.0 660.0 C319.5 667.5 321.3 668.5 333.0 668.0 C344.7 667.5 344.8 666.8 344.0 658.0 C343.2 649.2 339.9 650.5 330.0 635.0 C320.1 619.5 314.2 617.3 307.0 600.0 C299.8 582.7 300.9 591.3 303.0 570.0 C305.1 548.7 307.8 549.3 315.0 520.0 C322.2 490.7 320.7 492.0 330.0 460.0 C339.3 428.0 338.0 429.3 350.0 400.0 C362.0 370.7 363.5 370.8 375.0 350.0 C386.5 329.2 386.9 326.8 393.0 322.0 C399.1 317.2 398.5 311.2 398.0 332.0 C397.5 352.8 394.5 363.2 391.0 400.0 C387.5 436.8 387.9 435.3 385.0 470.0 C382.1 504.7 384.8 506.0 380.0 530.0 C375.2 554.0 372.3 546.1 367.0 560.0 C361.7 573.9 356.5 570.0 360.0 582.0 C363.5 594.0 362.7 591.7 380.0 605.0 C397.3 618.3 402.3 621.3 425.0 632.0 C447.7 642.7 450.1 643.4 465.0 645.0 C479.9 646.6 478.9 644.1 481.0 638.0 C483.1 631.9 482.6 632.7 473.0 622.0 C463.4 611.3 456.5 613.2 445.0 598.0 C433.5 582.8 433.2 591.1 430.0 565.0 C426.8 538.9 427.7 538.7 433.0 500.0 C438.3 461.3 441.5 457.3 450.0 420.0 C458.5 382.7 457.0 389.3 465.0 360.0 C473.0 330.7 475.7 336.7 480.0 310.0 C484.3 283.3 483.7 289.3 481.0 260.0 C478.3 230.7 476.9 234.7 470.0 200.0 C463.1 165.3 462.5 148.7 455.0 130.0 C447.5 111.3 441.5 138.0 442.0 130.0 C442.5 122.0 449.8 117.1 457.0 100.0 C464.2 82.9 475.4 83.6 469.0 66.0 C462.6 48.4 463.4 44.4 433.0 34.0 C402.6 23.6 396.3 26.7 355.0 27.0 C313.7 27.3 300.7 20.9 278.0 35.0Z" fill="#0b1f4f"/>
<path d="M330.0 40.0 C332.7 56.0 322.0 61.3 338.0 88.0 C354.0 114.7 346.7 107.3 378.0 120.0 C409.3 132.7 414.0 124.0 432.0 126.0" stroke="#7f8fb0" stroke-width="4" fill="none"/>
<path d="M388 128 L394 330" stroke="#7f8fb0" stroke-width="4" fill="none"/>
</g></g>
<circle cx="79.2" cy="606.3" r="41.1" fill="none" stroke="#2b4672" stroke-width="1.3"/>
</svg></body></html>
